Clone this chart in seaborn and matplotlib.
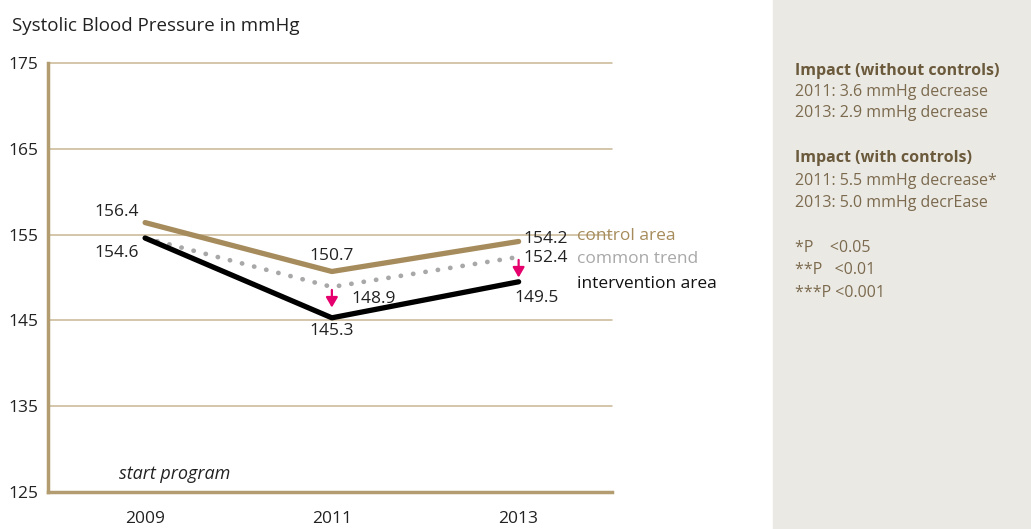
import matplotlib
matplotlib.use("Agg")
import matplotlib.pyplot as plt
import seaborn as sns
import pandas as pd

years = [2009, 2011, 2013]
control = [156.4, 150.7, 154.2]
common = [154.6, 148.9, 152.4]
intervention = [154.6, 145.3, 149.5]
yticks = [125, 135, 145, 155, 165, 175]
series_names = ["control area", "common trend", "intervention area"]

sns.set_style("white")
plt.rcParams['font.family'] = ['Open Sans', 'DejaVu Sans']

TAN = "#a68c5c"
GRID = "#c9b793"
SPINE = "#b29c70"
GREY = "#a8a8a8"
MAG = "#e5006d"
PANEL_TXT = "#7b6a4e"

df = pd.DataFrame({
    "year": years * 3,
    "value": control + common + intervention,
    "series": sum([[n] * 3 for n in series_names], []),
})

fig = plt.figure(figsize=(10.31, 5.29), dpi=100)
# side panel
fig.patches.append(plt.Rectangle((773 / 1031, 0), 1 - 773 / 1031, 1, transform=fig.transFigure,
                                 color="#ebe9e4", zorder=0))
ax = fig.add_axes([48 / 1031, 1 - 492 / 529, (612 - 48) / 1031, (492 - 63) / 529])

for y in yticks[1:]:
    ax.axhline(y, color=GRID, lw=1.1, zorder=1, clip_on=False)

sns.lineplot(data=df[df.series == "control area"], x="year", y="value", color=TAN, lw=3.8,
             ax=ax, zorder=3, legend=False, solid_capstyle="round")
sns.lineplot(data=df[df.series == "common trend"], x="year", y="value", color=GREY, lw=3.4,
             ax=ax, zorder=2, legend=False, linestyle=(0, (0.05, 2.6)), dash_capstyle="round")
sns.lineplot(data=df[df.series == "intervention area"], x="year", y="value", color="black", lw=3.8,
             ax=ax, zorder=3, legend=False, solid_capstyle="round")

ax.set_xlim(2007.96, 2014.0)
ax.set_ylim(125, 175)
ax.set_yticks(yticks)
ax.set_yticklabels([str(t) for t in yticks])
ax.set_xticks(years)
ax.set_xticklabels([str(y) for y in years])
ax.tick_params(axis="both", length=0, labelsize=12.5, colors="#222222")
ax.tick_params(axis="y", pad=7)
ax.tick_params(axis="x", pad=14)
for s in ["top", "right"]:
    ax.spines[s].set_visible(False)
for s in ["left", "bottom"]:
    ax.spines[s].set_color(SPINE)
    ax.spines[s].set_linewidth(2.5)
ax.set_xlabel("")
ax.set_ylabel("")

# arrows
for i in (1, 2):
    x = years[i]
    ax.annotate("", xy=(x, common[i] - 2.4), xytext=(x, common[i] - 0.35),
                arrowprops=dict(arrowstyle="-|>,head_length=0.6,head_width=0.35", color=MAG, lw=1.6,
                                shrinkA=0, shrinkB=0), zorder=4)

fs = 12.5
tc = "#222222"
ax.text(2008.7, control[0] + 1.2, "156.4", ha="center", va="center", fontsize=fs, color=tc)
ax.text(2008.7, intervention[0] - 1.7, "154.6", ha="center", va="center", fontsize=fs, color=tc)
ax.text(2011, control[1] + 0.9, "150.7", ha="center", va="bottom", fontsize=fs, color=tc)
ax.text(2011.45, common[1] - 1.4, "148.9", ha="center", va="center", fontsize=fs, color=tc)
ax.text(2011, intervention[1] - 1.5, "145.3", ha="center", va="center", fontsize=fs, color=tc)
ax.text(2013.29, control[2] + 0.25, "154.2", ha="center", va="center", fontsize=fs, color=tc)
ax.text(2013.29, common[2] - 0.1, "152.4", ha="center", va="center", fontsize=fs, color=tc)
ax.text(2013.19, intervention[2] - 1.9, "149.5", ha="center", va="center", fontsize=fs, color=tc)

ax.text(2013.63, 154.8, series_names[0], ha="left", va="center", fontsize=fs, color=TAN, clip_on=False)
ax.text(2013.63, 152.2, series_names[1], ha="left", va="center", fontsize=fs, color=GREY, clip_on=False)
ax.text(2013.63, 149.3, series_names[2], ha="left", va="center", fontsize=fs, color="#111111", clip_on=False)

ax.text(2008.72, 127.1, "start program", ha="left", va="center", fontsize=13, style="italic", color=tc)

fig.text(12 / 1031, 1 - 26 / 529, "Systolic Blood Pressure in mmHg", ha="left", va="center",
         fontsize=13.5, color=tc)

panel = [
    ("Impact (without controls)", 71, True),
    ("2011: 3.6 mmHg decrease", 92, False),
    ("2013: 2.9 mmHg decrease", 113, False),
    ("Impact (with controls)", 158, True),
    ("2011: 5.5 mmHg decrease*", 181, False),
    ("2013: 5.0 mmHg decrEase", 203, False),
    ("*P    <0.05", 248, False),
    ("**P   <0.01", 270, False),
    ("***P <0.001", 293, False),
]
for txt, yp, bold in panel:
    fig.text(795 / 1031, 1 - yp / 529, txt, ha="left", va="center", fontsize=11.5,
             fontweight="bold" if bold else "normal",
             color="#6b5a3c" if bold else PANEL_TXT)

fig.savefig("out.png", dpi=100)
